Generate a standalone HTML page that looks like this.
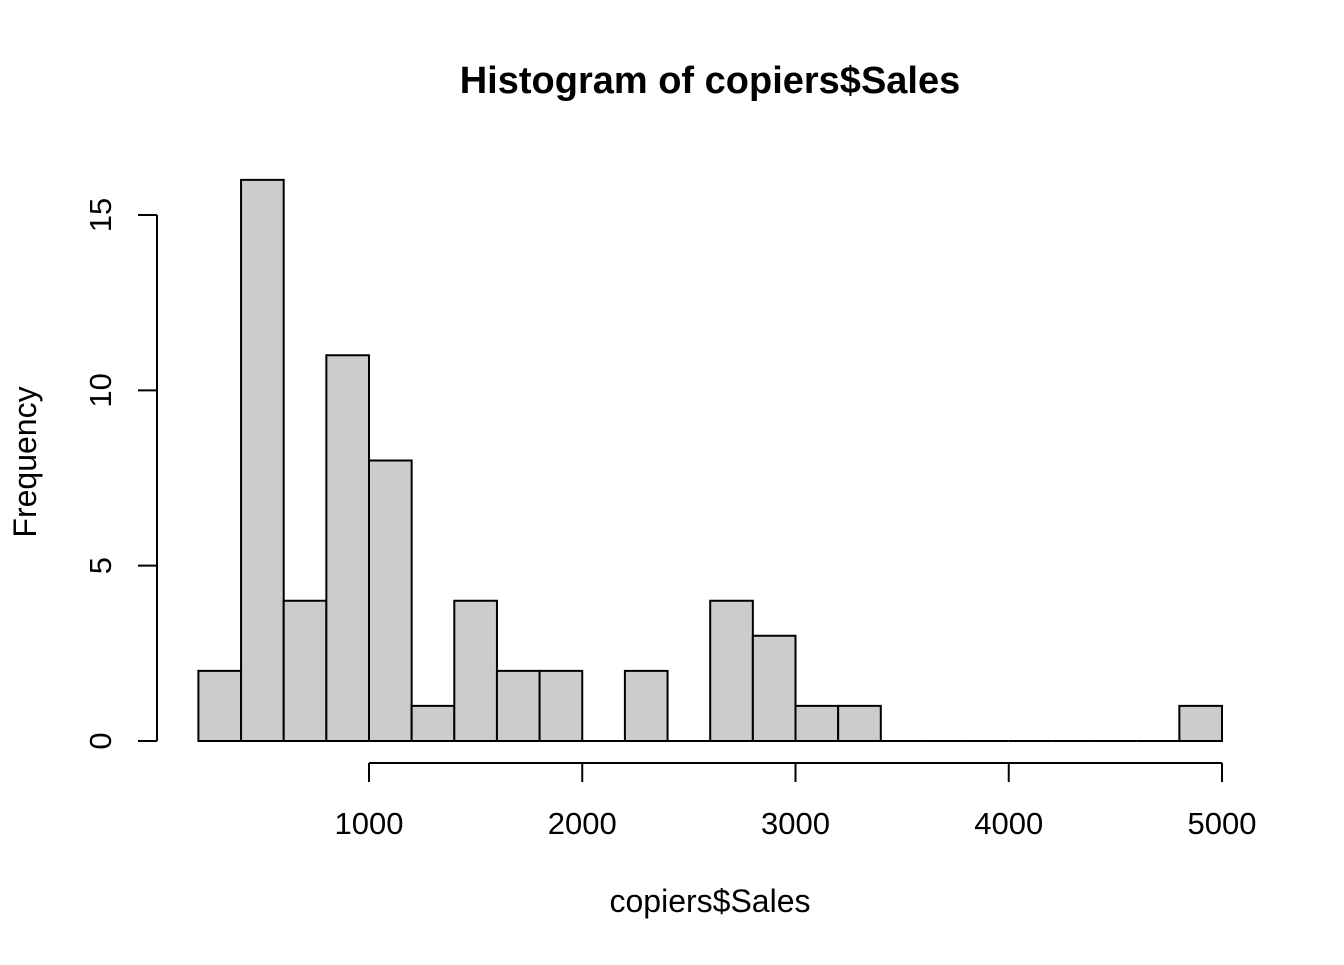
<!DOCTYPE html>
<html><head><meta charset="utf-8"><style>body{margin:0;background:#fff}svg text{font-family:"Liberation Sans",Arial,sans-serif;fill:#000}</style></head>
<body>
<svg id="c" width="1344" height="960" xmlns="http://www.w3.org/2000/svg">
<text x="710" y="93" text-anchor="middle" font-size="38" font-weight="bold">Histogram of copiers$Sales</text>
<text x="710" y="912" text-anchor="middle" font-size="32">copiers$Sales</text>
<text transform="translate(36,462) rotate(-90)" text-anchor="middle" font-size="32">Frequency</text>
<g id="bars"></g><g id="axes"></g>
</svg>
<script>
const binStart = 200;
const binWidth = 200;
const counts = [2,16,4,11,8,1,4,2,2,0,2,0,4,3,1,1,0,0,0,0,0,0,0,1];
const xTicks = [1000,2000,3000,4000,5000];
const yTicks = [0,5,10,15];
const NS = "http://www.w3.org/2000/svg";
const xs = v => 369 + (v - 1000) * (1222 - 369) / 4000;
const ys = v => 741 - v * (741 - 215) / 15;
const bars = document.getElementById('bars'), axes = document.getElementById('axes');
function mk(tag, attrs, parent){const e=document.createElementNS(NS,tag);for(const k in attrs)e.setAttribute(k,attrs[k]);parent.appendChild(e);return e;}
counts.forEach((c,i)=>{
  const x0=xs(binStart+i*binWidth), x1=xs(binStart+(i+1)*binWidth), y0=ys(0), y1=ys(c);
  const d=`M${x0},${y0}L${x0},${y1}L${x1},${y1}L${x1},${y0}Z`;
  const r=mk('path',{d:d,fill:'#cccccc',stroke:'#000','stroke-width':2},bars);
  
  
});
const xl=mk('line',{x1:xs(xTicks[0]),x2:xs(xTicks[xTicks.length-1]),y1:763,y2:763,stroke:'#000','stroke-width':2},axes);


xTicks.forEach(t=>{
  const l=mk('line',{x1:xs(t),x2:xs(t),y1:763,y2:782,stroke:'#000','stroke-width':2},axes);
  
  
  const tx=mk('text',{x:xs(t),y:834,'text-anchor':'middle','font-size':31},axes);
  tx.textContent=t;
  
  
});
const yl=mk('line',{x1:157,x2:157,y1:ys(yTicks[0]),y2:ys(yTicks[yTicks.length-1]),stroke:'#000','stroke-width':2},axes);


yTicks.forEach(t=>{
  const l=mk('line',{x1:138,x2:157,y1:ys(t),y2:ys(t),stroke:'#000','stroke-width':2},axes);
  
  
  const tx=mk('text',{transform:'translate(111,'+ys(t)+') rotate(-90)','text-anchor':'middle','font-size':31},axes);
  tx.textContent=t;
  
  
});
</script>
</body></html>
